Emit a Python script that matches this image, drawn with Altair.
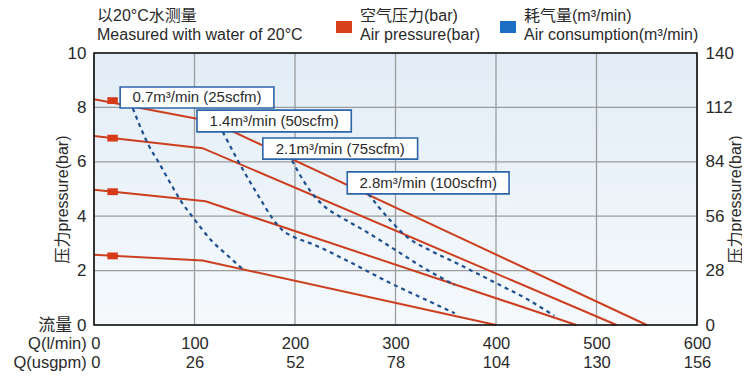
import altair as alt
import pandas as pd

# ---------------- data ----------------
# air-pressure curves (flow l/min, pressure bar)
p_names = ["p1", "p2", "p3", "p4"]
p_flow = [[0, 117, 550], [0, 108, 520], [0, 111, 480], [0, 108, 400]]
p_bar = [[8.3, 7.48, 0], [6.95, 6.5, 0], [4.97, 4.55, 0], [2.58, 2.37, 0]]
marker_flow = [18.5, 18.5, 18.5, 18.5]
marker_bar = [8.25, 6.87, 4.9, 2.54]

# air-consumption curves
c_labels = ["0.7m³/min (25scfm)", "1.4m³/min (50scfm)", "2.1m³/min (75scfm)", "2.8m³/min (100scfm)"]
c_flow = [
    [38.6, 55, 65, 77, 87, 98, 118, 131, 149],
    [128, 145, 166, 177, 187, 200, 217, 250, 296, 333, 359],
    [197, 209, 217, 233, 244, 270, 299, 329, 359],
    [273, 283, 296, 313, 332, 362, 398, 431, 458],
]
c_bar = [
    [7.97, 6.56, 5.94, 5.15, 4.53, 3.98, 3.06, 2.62, 2.02],
    [7.11, 5.92, 4.6, 3.95, 3.5, 3.22, 2.98, 2.4, 1.52, 0.88, 0.43],
    [6.05, 5.27, 4.84, 4.25, 4.0, 3.45, 2.78, 2.08, 1.47],
    [4.82, 4.35, 3.8, 3.19, 2.79, 2.25, 1.58, 0.95, 0.34],
]
# label boxes (flow / bar extents)
box_left = [26, 102.5, 168, 252]
box_right = [179, 256, 322, 413]
box_bottom = [7.98, 7.1, 6.1, 4.82]
box_top = [8.75, 7.9, 6.875, 5.63]

x_ticks = [0, 100, 200, 300, 400, 500, 600]
lmin_labels = ["0", "100", "200", "300", "400", "500", "600"]
usgpm_labels = ["0", "26", "52", "78", "104", "130", "156"]
row_titles = ["Q(l/min)", "Q(usgpm)"]
y_ticks = [0, 2, 4, 6, 8, 10]
right_ticks = [0, 28, 56, 84, 112, 140]

header_left = ["以20°C水测量", "Measured with water of 20°C"]
header_red = ["空气压力(bar)", "Air pressure(bar)"]
header_blue = ["耗气量(m³/min)", "Air consumption(m³/min)"]
axis_title = "压力pressure(bar)"

# ---------------- tables ----------------
p_df = pd.DataFrame([
    {"s": n, "i": i, "f": f, "b": b}
    for n, fl, bl in zip(p_names, p_flow, p_bar)
    for i, (f, b) in enumerate(zip(fl, bl))
])
m_df = pd.DataFrame({"f": marker_flow, "b": marker_bar})
c_df = pd.DataFrame([
    {"s": n, "i": i, "f": f, "b": b}
    for n, fl, bl in zip(c_labels, c_flow, c_bar)
    for i, (f, b) in enumerate(zip(fl, bl))
])
box_df = pd.DataFrame({"t": c_labels, "x1": box_left, "x2": box_right,
                       "y1": box_bottom, "y2": box_top})
box_df["xc"] = (box_df.x1 + box_df.x2) / 2
box_df["yc"] = (box_df.y1 + box_df.y2) / 2
one = pd.DataFrame({"a": [0]})

W, H = 603, 272
FONT = "Liberation Sans, Arial, Noto Sans CJK SC, sans-serif"
TXT = "#2a2a2a"
RED = "#cc3f1e"
xs = alt.Scale(domain=[0, 600], nice=False, zero=False)
ys = alt.Scale(domain=[0, 10], nice=False)


def q(s):
    return "'" + s.replace("'", "\\'") + "'"


x_expr = "''"
for k in reversed(range(len(x_ticks))):
    l1, l2 = lmin_labels[k], usgpm_labels[k]
    if x_ticks[k] == 0:
        l1, l2 = row_titles[0] + " " + l1, row_titles[1] + " " + l2
    x_expr = f"datum.value == {x_ticks[k]} ? [{q(l1)}, {q(l2)}] : " + x_expr

x_axis = alt.Axis(
    values=x_ticks, labelExpr=x_expr, domain=False, ticks=False, grid=False, title=None,
    labelFontSize=16.5, labelPadding=10, labelLineHeight=19, labelFlush=False,
    labelOverlap=False, labelBound=False, labelBaseline="top", labelColor=TXT, labelFont=FONT,
    labelAlign={"condition": {"test": "datum.value == 0", "value": "right"}, "value": "center"},
    labelOffset={"condition": {"test": "datum.value == 0", "value": 6}, "value": 0},
)
y_axis = alt.Axis(
    values=y_ticks, labelExpr="datum.value == 0 ? '流量 0' : datum.label",
    domain=False, ticks=False, grid=False, labelFontSize=17, labelPadding=8,
    labelColor=TXT, labelFont=FONT, title=axis_title, titleFontSize=16,
    titleFontWeight="normal", titleColor=TXT, titleFont=FONT, titleX=-32, titleY=146,
    titleAngle=270, titleAlign="center", titleBaseline="middle",
)
r_axis = alt.Axis(
    orient="right", values=right_ticks, domain=False, ticks=False, grid=False,
    labelFontSize=17, labelPadding=8, labelColor=TXT, labelFont=FONT,
    title=axis_title, titleFontSize=16, titleFontWeight="normal", titleColor=TXT,
    titleFont=FONT, titleX=38, titleY=146, titleAngle=270, titleAlign="center",
    titleBaseline="middle",
)

bg = alt.Chart(one).mark_rect(
    color=alt.Gradient(gradient="linear",
                       stops=[alt.GradientStop(color="#e2edf7", offset=0),
                              alt.GradientStop(color="#f5f9fc", offset=1)],
                       x1=0, x2=0, y1=0, y2=1)
).encode(x=alt.value(0), x2=alt.value(W), y=alt.value(0), y2=alt.value(H))

vgrid = alt.Chart(pd.DataFrame({"f": x_ticks})).mark_rule(
    color="#9c9c9c", strokeWidth=1.3).encode(x=alt.X("f:Q", scale=xs, axis=x_axis))
hgrid = alt.Chart(pd.DataFrame({"b": y_ticks})).mark_rule(
    color="#9c9c9c", strokeWidth=1.3).encode(y=alt.Y("b:Q", scale=ys, axis=y_axis))

plines = alt.Chart(p_df).mark_line(color=RED, strokeWidth=2).encode(
    x=alt.X("f:Q", scale=xs), y=alt.Y("b:Q", scale=ys), detail="s:N", order="i:Q")
markers = alt.Chart(m_df).mark_point(
    shape="M-1,-0.65L1,-0.65L1,0.65L-1,0.65Z", filled=True, size=110, opacity=1,
    color="#d63a18").encode(x=alt.X("f:Q", scale=xs), y=alt.Y("b:Q", scale=ys))
clines = alt.Chart(c_df).mark_line(
    color="#1e4f8f", strokeWidth=2.2, strokeDash=[4, 4], interpolate="monotone").encode(
    x=alt.X("f:Q", scale=xs), y=alt.Y("b:Q", scale=ys), detail="s:N", order="i:Q")

boxes = alt.Chart(box_df).mark_rect(fill="white", stroke="#2c64a8", strokeWidth=1.6).encode(
    x=alt.X("x1:Q", scale=xs), x2="x2:Q", y=alt.Y("y1:Q", scale=ys), y2="y2:Q")
box_text = alt.Chart(box_df).mark_text(fontSize=15, color=TXT, font=FONT).encode(
    x=alt.X("xc:Q", scale=xs), y=alt.Y("yc:Q", scale=ys), text="t:N")

border = alt.Chart(one).mark_rect(fillOpacity=0, stroke="#111", strokeWidth=1.6).encode(
    x=alt.value(0), x2=alt.value(W), y=alt.value(0), y2=alt.value(H))


def head(lines, x):
    return alt.Chart(one).mark_text(
        align="left", baseline="top", fontSize=16, lineHeight=19, color=TXT, font=FONT
    ).encode(x=alt.value(x), y=alt.value(-45), text=alt.value(lines))


def swatch(color, x):
    return alt.Chart(one).mark_point(
        shape="M-1,-0.75L1,-0.75L1,0.75L-1,0.75Z", filled=True, size=256, opacity=1,
        color=color).encode(x=alt.value(x), y=alt.value(-26))


main = alt.layer(
    bg, vgrid, hgrid, plines, markers, clines, boxes, box_text, border,
    head(header_left, 3), swatch("#d6401c", 250), head(header_red, 266),
    swatch("#1b6ec2", 414), head(header_blue, 430),
)

right = alt.Chart(pd.DataFrame({"v": right_ticks})).mark_point(opacity=0).encode(
    y=alt.Y("v:Q", scale=alt.Scale(domain=[0, 140], nice=False), axis=r_axis))

chart = alt.layer(main, right).resolve_scale(y="independent").properties(
    width=W, height=H,
    autosize=alt.AutoSizeParams(type="none"),
    padding={"left": 86, "top": 45, "right": 45, "bottom": 47},
).configure_view(stroke="transparent")

chart.save("out.html", embed_options={"renderer": "svg", "actions": False})
